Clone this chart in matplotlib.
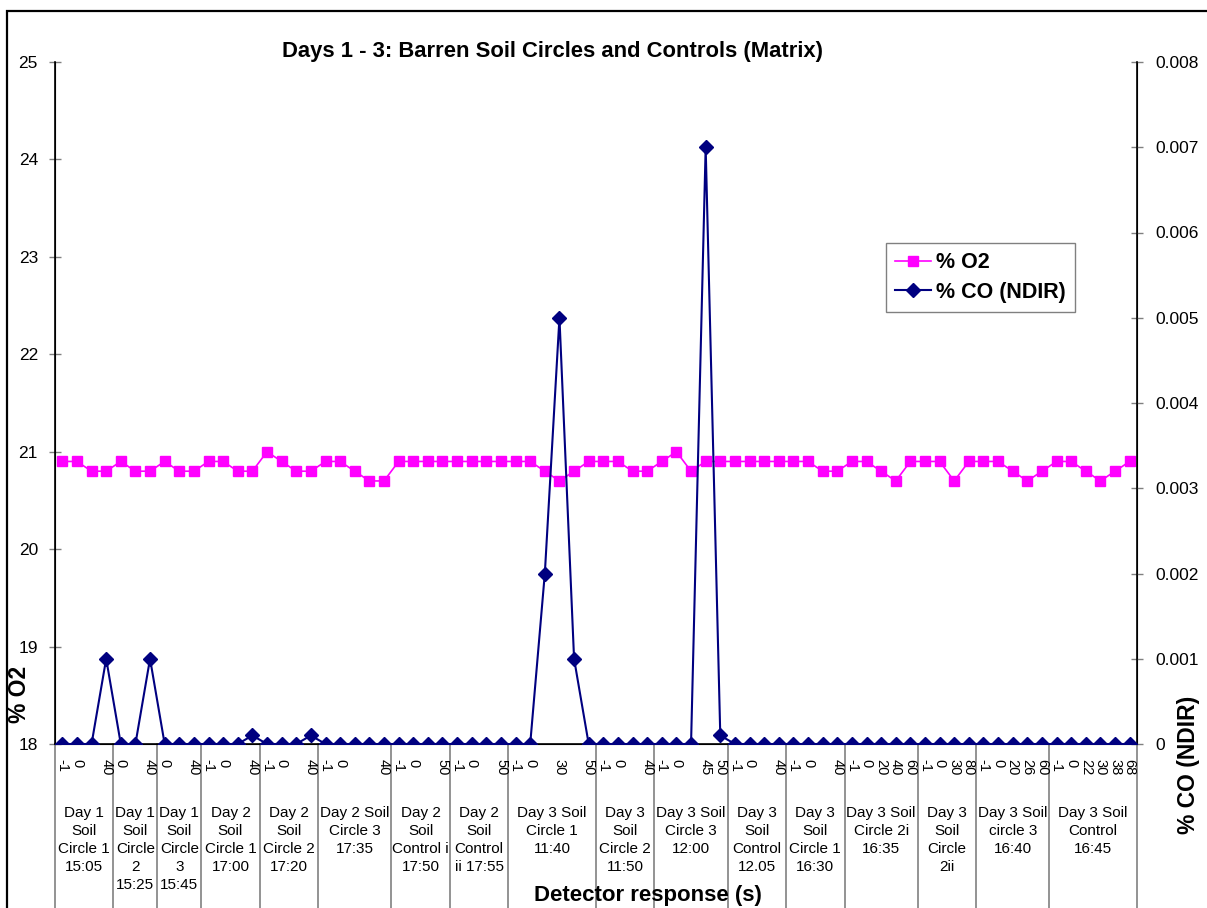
import matplotlib
matplotlib.use("Agg")
import matplotlib.pyplot as plt
import matplotlib.transforms as mtransforms
from matplotlib.patches import Rectangle

plt.rcParams['font.family'] = ['Liberation Sans', 'DejaVu Sans']

# ---------------- data ----------------
group_names = [
    "Day 1\nSoil\nCircle 1\n15:05",
    "Day 1\nSoil\nCircle\n2\n15:25",
    "Day 1\nSoil\nCircle\n3\n15:45",
    "Day 2\nSoil\nCircle 1\n17:00",
    "Day 2\nSoil\nCircle 2\n17:20",
    "Day 2 Soil\nCircle 3\n17:35",
    "Day 2\nSoil\nControl i\n17:50",
    "Day 2\nSoil\nControl\nii 17:55",
    "Day 3 Soil\nCircle 1\n11:40",
    "Day 3\nSoil\nCircle 2\n11:50",
    "Day 3 Soil\nCircle 3\n12:00",
    "Day 3\nSoil\nControl\n12.05",
    "Day 3\nSoil\nCircle 1\n16:30",
    "Day 3 Soil\nCircle 2i\n16:35",
    "Day 3\nSoil\nCircle\n2ii",
    "Day 3 Soil\ncircle 3\n16:40",
    "Day 3 Soil\nControl\n16:45",
]

group_ticks = [
    ["-1", "0", "", "40"],
    ["0", "", "40"],
    ["0", "", "40"],
    ["-1", "0", "", "40"],
    ["-1", "0", "", "40"],
    ["-1", "0", "", "", "40"],
    ["-1", "0", "", "50"],
    ["-1", "0", "", "50"],
    ["-1", "0", "", "30", "", "50"],
    ["-1", "0", "", "40"],
    ["-1", "0", "", "45", "50"],
    ["-1", "0", "", "40"],
    ["-1", "0", "", "40"],
    ["-1", "0", "20", "40", "60"],
    ["-1", "0", "30", "80"],
    ["-1", "0", "20", "26", "60"],
    ["-1", "0", "22", "30", "38", "68"],
]

o2 = [20.9, 20.9, 20.8, 20.8,
      20.9, 20.8, 20.8,
      20.9, 20.8, 20.8,
      20.9, 20.9, 20.8, 20.8,
      21.0, 20.9, 20.8, 20.8,
      20.9, 20.9, 20.8, 20.7, 20.7,
      20.9, 20.9, 20.9, 20.9,
      20.9, 20.9, 20.9, 20.9,
      20.9, 20.9, 20.8, 20.7, 20.8, 20.9,
      20.9, 20.9, 20.8, 20.8,
      20.9, 21.0, 20.8, 20.9, 20.9,
      20.9, 20.9, 20.9, 20.9,
      20.9, 20.9, 20.8, 20.8,
      20.9, 20.9, 20.8, 20.7, 20.9,
      20.9, 20.9, 20.7, 20.9,
      20.9, 20.9, 20.8, 20.7, 20.8,
      20.9, 20.9, 20.8, 20.7, 20.8, 20.9]

co = [0, 0, 0, 0.001,
      0, 0, 0.001,
      0, 0, 0,
      0, 0, 0, 0.0001,
      0, 0, 0, 0.0001,
      0, 0, 0, 0, 0,
      0, 0, 0, 0,
      0, 0, 0, 0,
      0, 0, 0.002, 0.005, 0.001, 0,
      0, 0, 0, 0,
      0, 0, 0, 0.007, 0.0001,
      0, 0, 0, 0,
      0, 0, 0, 0,
      0, 0, 0, 0, 0,
      0, 0, 0, 0,
      0, 0, 0, 0, 0,
      0, 0, 0, 0, 0, 0]

tick_labels = [t for g in group_ticks for t in g]
group_sizes = [len(g) for g in group_ticks]
x = list(range(len(o2)))

# ---------------- figure ----------------
W, H = 1207, 908
fig = plt.figure(figsize=(W / 100, H / 100), dpi=100)
L, R, T, B = 55, 1137, 62, 744
ax = fig.add_axes([L / W, 1 - B / H, (R - L) / W, (B - T) / H])
ax2 = ax.twinx()

ax.plot(x, o2, color='#FF00FF', marker='s', markersize=7.5, linewidth=1.2,
        label='% O2', zorder=3)
ax2.plot(x, co, color='#000080', marker='D', markersize=6.8, linewidth=1.5,
         label='% CO (NDIR)', zorder=3)

ax.set_xlim(-0.5, len(x) - 0.5)
ax.set_ylim(18, 25)
ax2.set_ylim(0, 0.008)
ax.set_yticks(range(18, 26))
ax2.set_yticks([i * 0.001 for i in range(9)])
ax2.set_yticklabels(['0'] + ['%.3f' % (i * 0.001) for i in range(1, 9)])

for a in (ax, ax2):
    a.spines['top'].set_visible(False)
    a.patch.set_visible(False)
ax.spines['left'].set_linewidth(1.2)
ax2.spines['right'].set_linewidth(1.2)
ax.spines['bottom'].set_linewidth(1.2)

ax.tick_params(axis='y', direction='inout', length=8.5, width=1, color='#808080',
               labelsize=12.5, pad=8)
ax2.tick_params(axis='y', direction='inout', length=8.5, width=1, color='#808080',
                labelsize=12.5, pad=9)

ax.set_xticks(x)
ax.set_xticklabels(tick_labels, rotation=-90, fontsize=10.5, va='top', ha='center')
ax.tick_params(axis='x', length=0, pad=11)

# group separators
trans = mtransforms.blended_transform_factory(ax.transData, ax.transAxes)
bounds = [-0.5]
for s in group_sizes:
    bounds.append(bounds[-1] + s)
for b in bounds:
    ax.plot([b, b], [0, -0.3], transform=trans, color='#808080', linewidth=1.2,
            clip_on=False, zorder=1)

# group labels
transf = mtransforms.blended_transform_factory(ax.transData, fig.transFigure)
for i, name in enumerate(group_names):
    cx = (bounds[i] + bounds[i + 1]) / 2
    ax.text(cx, 1 - 806 / H, name, transform=transf, ha='center', va='top',
            fontsize=11, linespacing=1.36, multialignment='center')

# titles
fig.text(552 / W, 1 - 52 / H, 'Days 1 - 3: Barren Soil Circles and Controls (Matrix)',
         ha='center', va='center', fontsize=15.8, fontweight='bold')
fig.text(20 / W, 1 - 694 / H, '% O2', ha='center', va='center', rotation=90,
         fontsize=16.5, fontweight='bold')
fig.text(1188 / W, 1 - 765 / H, '% CO (NDIR)', ha='center', va='center', rotation=90,
         fontsize=16.5, fontweight='bold')
fig.text(648 / W, 1 - 896 / H, 'Detector response (s)', ha='center', va='center',
         fontsize=16, fontweight='bold')

# legend
h1, l1 = ax.get_legend_handles_labels()
h2, l2 = ax2.get_legend_handles_labels()
leg = ax2.legend(h1 + h2, l1 + l2, loc='upper left',
                 bbox_to_anchor=(886 / W, 1 - 243 / H), bbox_transform=fig.transFigure,
                 borderaxespad=0,
                 frameon=True, fancybox=False, edgecolor='#808080', framealpha=1,
                 prop={'weight': 'bold', 'size': 15.5}, handlelength=1.65,
                 borderpad=0.42, labelspacing=0.4, handletextpad=0.25)
leg.get_frame().set_linewidth(1)

# outer chart border
fig.patches.append(Rectangle((7 / W, -0.05), 1.2, 1 - 11 / H + 0.05,
                             transform=fig.transFigure, fill=False,
                             edgecolor='black', linewidth=1.6))

fig.savefig('out.png', dpi=100)
